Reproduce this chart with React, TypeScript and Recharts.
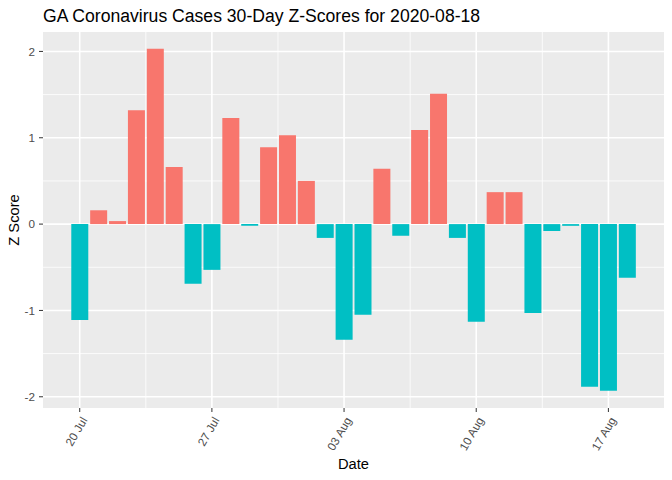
import React from 'react';
import { BarChart, Bar, XAxis, YAxis, CartesianGrid, Cell } from 'recharts';

// one bar per day, 20 Jul 2020 .. 18 Aug 2020
const dates = [
  '2020-07-20', '2020-07-21', '2020-07-22', '2020-07-23', '2020-07-24', '2020-07-25', '2020-07-26',
  '2020-07-27', '2020-07-28', '2020-07-29', '2020-07-30', '2020-07-31', '2020-08-01', '2020-08-02',
  '2020-08-03', '2020-08-04', '2020-08-05', '2020-08-06', '2020-08-07', '2020-08-08', '2020-08-09',
  '2020-08-10', '2020-08-11', '2020-08-12', '2020-08-13', '2020-08-14', '2020-08-15', '2020-08-16',
  '2020-08-17', '2020-08-18',
];
const zScores = [
  -1.11, 0.16, 0.035, 1.32, 2.03, 0.66, -0.69,
  -0.53, 1.23, -0.02, 0.89, 1.03, 0.5, -0.16,
  -1.34, -1.05, 0.64, -0.135, 1.09, 1.51, -0.16,
  -1.13, 0.37, 0.37, -1.03, -0.08, -0.02, -1.885,
  -1.93, -0.62,
];
const tickDays = [0, 7, 14, 21, 28];
const tickLabels = ['20 Jul', '27 Jul', '03 Aug', '10 Aug', '17 Aug'];
const minorDays = [3.5, 10.5, 17.5, 24.5];
const yTicks = [-2, -1, 0, 1, 2];
const yMinor = [-1.5, -0.5, 0.5, 1.5];

const data = dates.map((d, i) => ({ date: d, day: i, z: zScores[i] }));

const FONT = '"Liberation Sans", Arial, sans-serif';
const POS = '#F8766D';
const NEG = '#00BFC4';

const XTick = (props: any) => {
  const { x, y, payload } = props;
  const label = tickLabels[tickDays.indexOf(payload.value)];
  return (
    <g transform={`translate(${x + 8},${y + 8}) rotate(-60)`}>
      <text textAnchor="end" fill="#4D4D4D" fontSize={11.7} fontFamily={FONT}>
        {label}
      </text>
    </g>
  );
};

export default function App() {
  return (
    <div style={{ position: 'absolute', left: 0, top: 0, width: 672, height: 480, background: '#fff' }}>
      <BarChart
        width={672}
        height={480}
        data={data}
        margin={{ top: 32, right: 8, bottom: 0, left: 0 }}
      >
        <CartesianGrid
          fill="#EBEBEB"
          stroke="#FFFFFF"
          strokeWidth={0.8}
          horizontalValues={yMinor}
          verticalValues={minorDays}
        />
        <CartesianGrid
          stroke="#FFFFFF"
          strokeWidth={1.6}
          horizontalValues={yTicks}
          verticalValues={tickDays}
        />
        <XAxis
          dataKey="day"
          type="number"
          domain={[-1.945, 30.945]}
          allowDataOverflow
          ticks={tickDays}
          interval={0}
          height={72}
          axisLine={false}
          tickLine={{ stroke: '#333333' }}
          tickSize={4}
          tickMargin={0}
          tick={<XTick />}
        />
        <YAxis
          type="number"
          domain={[-2.13, 2.225]}
          allowDataOverflow
          ticks={yTicks}
          interval={0}
          width={43}
          axisLine={false}
          tickLine={{ stroke: '#333333' }}
          tickSize={4}
          tickMargin={4}
          tick={{ fill: '#4D4D4D', fontSize: 11.7, fontFamily: FONT }}
        />
        <Bar dataKey="z" barSize={17} isAnimationActive={false}>
          {data.map((d) => (
            <Cell key={d.date} fill={d.z > 0 ? POS : NEG} />
          ))}
        </Bar>
      </BarChart>
      <svg
        width={672}
        height={480}
        style={{ position: 'absolute', left: 0, top: 0, pointerEvents: 'none' }}
      >
        <text x={43} y={22} fontSize={17.6} fontFamily={FONT} fill="#000">
          GA Coronavirus Cases 30-Day Z-Scores for 2020-08-18
        </text>
        <text x={353.5} y={469} fontSize={14.7} fontFamily={FONT} textAnchor="middle" fill="#000">
          Date
        </text>
        <text
          transform="translate(19,220) rotate(-90)"
          fontSize={14.7}
          fontFamily={FONT}
          textAnchor="middle"
          fill="#000"
        >
          Z Score
        </text>
      </svg>
    </div>
  );
}
